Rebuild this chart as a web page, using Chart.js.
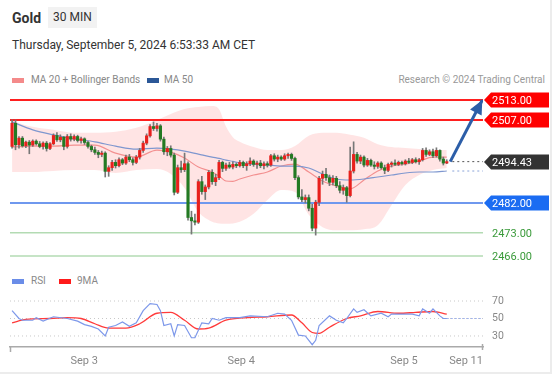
<!DOCTYPE html>
<html>
<head>
<meta charset="utf-8">
<script src="https://cdn.jsdelivr.net/npm/chart.js@4.4.1/dist/chart.umd.min.js"></script>
<style>
  html, body { margin: 0; padding: 0; background: #fff; }
  body { width: 553px; height: 375px; position: relative; overflow: hidden;
         font-family: Roboto, "Liberation Sans", Arial, sans-serif; }
  .frame { position: absolute; left: 0; top: 0; width: 550px; height: 372px;
           border-right: 2px solid #ececec; border-bottom: 2px solid #ececec; }
  canvas { position: absolute; left: 0; top: 0; }
  .txt { position: absolute; white-space: nowrap; }
  #title { left: 12px; top: 10px; font-size: 14px; font-weight: bold; color: #333; }
  #tf { left: 48px; top: 7px; width: 49px; height: 21px; line-height: 21px; text-align: center;
        background: #f2f2f2; font-size: 12px; color: #333; }
  #date { left: 12px; top: 38px; font-size: 12px; color: #333; }
  .leg { font-size: 10px; color: #888; }
  .sw { position: absolute; width: 12px; height: 5px; }
</style>
</head>
<body>
<div class="frame"></div>
<div class="txt" id="title">Gold</div>
<div class="txt" id="tf">30 MIN</div>
<div class="txt" id="date">Thursday, September 5, 2024 6:53:33 AM CET</div>

<div class="sw" style="left:12px; top:78px; background:#f48a8a;"></div>
<div class="txt leg" style="left:31px; top:74px;">MA 20 + Bollinger Bands</div>
<div class="sw" style="left:147px; top:78px; background:#2b5797;"></div>
<div class="txt leg" style="left:164px; top:74px;">MA 50</div>
<div class="txt leg" style="right:8px; top:74px; color:#999;">Research © 2024 Trading Central</div>

<div class="sw" style="left:12px; top:279px; background:#6a8de8;"></div>
<div class="txt leg" style="left:31px; top:275px;">RSI</div>
<div class="sw" style="left:59px; top:279px; background:#ff1a1a;"></div>
<div class="txt leg" style="left:77px; top:275px;">9MA</div>

<canvas id="main" width="553" height="375"></canvas>
<canvas id="rsi" width="553" height="375"></canvas>

<script>
// x axis runs in candle index (30 min candles), plus some empty room on the right
const xMin = -0.6, xMax = 136.5;

// OHLC, one entry per candle
const opens = [
  2499, 2506, 2499.5, 2501.5, 2499.2, 2500.3, 2499.4, 2500.6, 2499.8, 2499,
  2500, 2498.4, 2499.8, 2502.3, 2501, 2501.8, 2499, 2502, 2501.2, 2502,
  2500.8, 2501.3, 2500.2, 2499, 2498, 2497.2, 2496.6, 2497, 2491.5, 2492.6,
  2494.2, 2493.2, 2495, 2494, 2495.8, 2495, 2494.2, 2495.8, 2497.8, 2500,
  2502.2, 2505, 2504.4, 2505.2, 2501.2, 2497.4, 2498.4, 2496.4, 2485.2, 2492.6,
  2492, 2493.8, 2477.6, 2476.6, 2476.2, 2488.4, 2485.4, 2486.8, 2491.2, 2488.4,
  2489.6, 2494.2, 2492.4, 2493.4, 2492.8, 2493.6, 2493.2, 2494.2, 2493.2, 2493.8,
  2494.6, 2493.6, 2494, 2493.2, 2493.8, 2493.4, 2496.2, 2495.2, 2495.8, 2495.2,
  2496.2, 2496.6, 2495.4, 2489.6, 2483.8, 2483, 2483.6, 2480.4, 2474.4, 2482.2,
  2489.4, 2490.6, 2489.6, 2488.2, 2489.4, 2487.2, 2485.8, 2486.6, 2484.2, 2491.6,
  2496.6, 2494.6, 2495.8, 2493.4, 2494.8, 2493.4, 2493, 2494, 2492.6, 2491.8,
  2493.6, 2494, 2493.6, 2494.2, 2493.8, 2494.6, 2494.2, 2495, 2494.4, 2495,
  2497.8, 2496.6, 2497.4, 2496.2, 2497.8, 2495.2, 2494
];
const highs = [
  2507, 2507, 2502, 2502, 2500.6, 2500.8, 2501, 2501, 2500.5, 2500.4,
  2500.5, 2500.2, 2502.8, 2503.2, 2502.5, 2502, 2502.6, 2502.8, 2502.5, 2502.4,
  2501.8, 2501.6, 2500.6, 2499.4, 2498.8, 2497.8, 2497.6, 2497.4, 2493.2, 2494.8,
  2495, 2495.6, 2495.4, 2496.4, 2496.6, 2495.6, 2496.3, 2498.4, 2500.6, 2502.8,
  2505.6, 2506.4, 2506, 2505.6, 2501.8, 2499, 2499.2, 2497, 2493.4, 2494.6,
  2497, 2494.4, 2479.5, 2478.6, 2489, 2490, 2487.4, 2491.8, 2492, 2490.6,
  2494.8, 2494.6, 2494, 2494.2, 2494.4, 2494, 2494.8, 2494.6, 2494.4, 2495.6,
  2495, 2494.6, 2494.8, 2494.4, 2494.4, 2496.6, 2496.8, 2496.4, 2496.2, 2496.8,
  2497, 2497, 2495.8, 2490.2, 2486, 2484.4, 2484.4, 2481.6, 2482.8, 2490,
  2491.6, 2492.4, 2490.4, 2490.2, 2490, 2488.4, 2487.4, 2487, 2498.8, 2500.4,
  2497.2, 2496.4, 2496.2, 2495.4, 2495.2, 2494.4, 2494.4, 2494.4, 2493.4, 2494,
  2494.4, 2495, 2494.6, 2494.6, 2495, 2495.4, 2495.4, 2495.6, 2495.4, 2498.4,
  2498.6, 2498, 2498.2, 2498.6, 2498, 2495.8, 2495
];
const lows = [
  2498.5, 2498, 2498.5, 2498.8, 2498.6, 2496.8, 2499, 2499.4, 2498.6, 2498.2,
  2497.6, 2498, 2499.5, 2500.5, 2500.4, 2498, 2498.5, 2500.6, 2500.7, 2500.3,
  2500, 2499.6, 2498.5, 2497.4, 2496.6, 2495.6, 2495.9, 2489.8, 2490, 2491.8,
  2492.5, 2492.8, 2493.5, 2493.6, 2494.4, 2493.4, 2493.8, 2495.2, 2497.2, 2499.5,
  2501.8, 2503.8, 2503.6, 2500.6, 2496.6, 2496.2, 2495.8, 2484.4, 2484.8, 2491.2,
  2491.4, 2476.8, 2472.6, 2475.4, 2475.8, 2484.6, 2483, 2486.2, 2487.6, 2487.2,
  2489, 2491.4, 2491.8, 2492.4, 2492.2, 2492.6, 2492.8, 2492.6, 2491.8, 2493.2,
  2493, 2492.4, 2492.6, 2492.2, 2492.8, 2493, 2494.6, 2494.4, 2494.8, 2494.8,
  2495.4, 2494.8, 2489, 2483.2, 2482.4, 2482, 2479.6, 2473.6, 2472.3, 2481.2,
  2487.6, 2488.8, 2487.2, 2487.4, 2486.6, 2485, 2484.6, 2482.2, 2483.8, 2491,
  2494, 2493.8, 2492.8, 2493, 2493, 2492.2, 2492.4, 2492.2, 2490.8, 2491.4,
  2492.8, 2493.2, 2493.2, 2493.4, 2493.4, 2493.8, 2493.8, 2494, 2493.6, 2494.6,
  2496, 2496.2, 2495.6, 2495.8, 2494.6, 2493.4, 2493.8
];
const closes = [
  2506, 2499.5, 2501.5, 2499.2, 2500.3, 2499.4, 2500.6, 2499.8, 2499, 2500,
  2498.4, 2499.8, 2502.3, 2501, 2501.8, 2499, 2502, 2501.2, 2502, 2500.8,
  2501.3, 2500.2, 2499, 2498, 2497.2, 2496.6, 2497, 2491.5, 2492.6, 2494.2,
  2493.2, 2495, 2494, 2495.8, 2495, 2494.2, 2495.8, 2497.8, 2500, 2502.2,
  2505, 2504.4, 2505.2, 2501.2, 2497.4, 2498.4, 2496.4, 2485.2, 2492.6, 2492,
  2493.8, 2477.6, 2476.6, 2476.2, 2488.4, 2485.4, 2486.8, 2491.2, 2488.4, 2489.6,
  2494.2, 2492.4, 2493.4, 2492.8, 2493.6, 2493.2, 2494.2, 2493.2, 2493.8, 2494.6,
  2493.6, 2494, 2493.2, 2493.8, 2493.4, 2496.2, 2495.2, 2495.8, 2495.2, 2496.2,
  2496.6, 2495.4, 2489.6, 2483.8, 2483, 2483.6, 2480.4, 2474.4, 2482.2, 2489.4,
  2490.6, 2489.6, 2488.2, 2489.4, 2487.2, 2485.8, 2486.6, 2484.2, 2491.6, 2496.6,
  2494.6, 2495.8, 2493.4, 2494.8, 2493.4, 2493, 2494, 2492.6, 2491.8, 2493.6,
  2494, 2493.6, 2494.2, 2493.8, 2494.6, 2494.2, 2495, 2494.4, 2495, 2497.8,
  2496.6, 2497.4, 2496.2, 2497.8, 2495.2, 2494, 2494.43
];

// MA 20 + Bollinger Bands and MA 50, read at these candle indices
const bandIdx = [0, 6, 12, 18, 24, 30, 36, 42, 46, 50, 54, 58, 60, 62, 64, 66, 70, 74, 78, 82, 86, 90, 94, 98, 102, 106, 110, 114, 118, 122, 126];
const bbUpper = [2506.7, 2504.9, 2504.0, 2503.1, 2503.1, 2503.4, 2504.6, 2507.0, 2508.8, 2510.3, 2510.9, 2511.2, 2510.2, 2505.0, 2501.8, 2500.4,
  2498.8, 2497.9, 2497.9, 2499.1, 2502.2, 2503.1, 2503.1, 2502.5, 2501.6, 2499.7, 2498.8, 2498.5, 2498.2, 2497.9, 2497.9];
const bbLower = [2491.3, 2491.3, 2491.6, 2491.9, 2491.9, 2491.0, 2491.9, 2492.2, 2490.7, 2486.5, 2479.3, 2476.3, 2475.8, 2475.7, 2475.8, 2476.3,
  2478.7, 2482.9, 2485.9, 2485.3, 2478.4, 2474.7, 2473.8, 2473.8, 2474.1, 2475.3, 2481.4, 2487.4, 2490.4, 2491.9, 2492.5];
const ma20 = [2498.8, 2499.1, 2499.1, 2499.4, 2499.4, 2497.0, 2495.8, 2497.9, 2497.3, 2495.5, 2492.8, 2491.3, 2490.1, 2488.6, 2488.5, 2489.2,
  2490.4, 2491.3, 2493.1, 2493.7, 2491.3, 2488.6, 2487.1, 2486.2, 2488.9, 2491.6, 2493.1, 2493.7, 2494.6, 2495.8, 2495.8];
const ma50 = [2506.4, 2504.0, 2502.5, 2501.3, 2500.4, 2499.1, 2498.2, 2498.5, 2498.2, 2497.6, 2496.7, 2495.8, 2495.4, 2494.9, 2494.5, 2494.0,
  2493.7, 2493.4, 2493.1, 2493.1, 2492.5, 2490.7, 2489.2, 2488.9, 2489.2, 2489.8, 2490.4, 2491.0, 2491.3, 2491.3, 2491.6];

// key levels (resistance, last price, support)
const levels = [2513, 2507, 2494.43, 2482, 2473, 2466];
const arrowFrom = [127, 2494.43];
const arrowTo = [136.3, 2513];

// RSI panel
const rsiIdx = [0, 2, 3, 6, 7, 9, 12, 16, 19, 21, 23, 25, 27, 28, 30, 32, 34, 36, 38, 40, 42, 43, 44, 46, 47, 48, 50, 52, 53, 55,
  57, 58, 60, 62, 66, 69, 74, 77, 79, 81, 83, 85, 87, 88, 89, 92, 94, 96, 97, 99, 100, 102, 104, 107, 109, 110, 116, 118, 119, 121,
  122, 124, 125, 126];
const rsiVals = [59, 50, 48, 48, 51, 47, 52, 50, 47, 43, 41, 38, 30, 40, 42, 46, 41, 45, 59, 67, 66, 59, 42, 44, 30, 43, 42, 28, 28, 45,
  44, 50, 48, 51, 51, 53, 52, 56, 55, 48, 31, 30, 20, 25, 42, 53, 48, 45, 50, 61, 57, 60, 53, 56, 52, 55, 55, 53, 61, 56,
  61, 53, 50, 50];
const rsiMaIdx = [0, 4, 11, 16, 20, 24, 28, 33, 37, 42, 46, 50, 54, 57, 62, 68, 74, 81, 84, 87, 89, 92, 97, 101, 106, 112, 117, 122, 126];
const rsiMaVals = [45, 49, 50, 51, 50, 44, 39, 39, 44, 56, 57, 48, 38, 39, 48, 51, 52, 54, 45, 34, 33, 40, 50, 53, 58, 56, 57, 58, 55];
const rsiLevels = [30, 50, 70];

const dateTickIdx = [20.9, 66.4, 113.6, 131.6];
const dateTickLabels = ["Sep 3", "Sep 4", "Sep 5", "Sep 11"];

// ---- styles ----
const FONT = 'Roboto, "Liberation Sans", Arial, sans-serif';
Chart.defaults.font.family = FONT;
const UP = "#e8201c", DOWN = "#237a23", WICK = "#777777";
const levelLook = [
  { line: "#ff1f1f", width: 2,   tag: "#ff0000", text: "#ffffff", from: xMin },
  { line: "#ff1f1f", width: 2,   tag: "#ff0000", text: "#ffffff", from: xMin },
  { line: "#555555", width: 1,   tag: "#333333", text: "#ffffff", from: 127.6, dash: [2, 3] },
  { line: "#6f98ee", width: 2,   tag: "#1b6cf2", text: "#ffffff", from: xMin },
  { line: "#b3dbb3", width: 1.5, tag: null,      text: "#3a9a3a", from: xMin },
  { line: "#b3dbb3", width: 1.5, tag: null,      text: "#3a9a3a", from: xMin }
];

const pts = (xs, ys) => xs.map((x, i) => ({ x: x, y: ys[i] }));
const flat = (v, from, to) => [{ x: from, y: v }, { x: to, y: v }];
const idx = opens.map((_, i) => i);

const wickData = idx.map(i => ({ x: i, y: [lows[i], highs[i]] }));
const bodyData = idx.map(i => ({ x: i, y: [Math.min(opens[i], closes[i]), Math.max(opens[i], closes[i])] }));
const bodyColors = idx.map(i => closes[i] >= opens[i] ? UP : DOWN);

const lineBase = { type: "line", pointRadius: 0, fill: false };

// tags on the right + arrow head
const levelTags = {
  id: "levelTags",
  afterDatasetsDraw(chart) {
    const { ctx, chartArea: a, scales: { x, y } } = chart;
    ctx.save();
    ctx.font = "11px " + FONT;
    ctx.textBaseline = "middle";
    levels.forEach((v, k) => {
      const look = levelLook[k];
      const py = Math.round(y.getPixelForValue(v));
      const x0 = a.right + 1;
      if (look.tag) {
        ctx.fillStyle = look.tag;
        ctx.beginPath();
        ctx.moveTo(x0, py);
        ctx.lineTo(x0 + 7, py - 7.5);
        ctx.lineTo(x0 + 65, py - 7.5);
        ctx.lineTo(x0 + 65, py + 7.5);
        ctx.lineTo(x0 + 7, py + 7.5);
        ctx.closePath();
        ctx.fill();
      }
      ctx.fillStyle = look.text;
      ctx.fillText(v.toFixed(2), x0 + 8, py + 1);
    });

    // arrow head
    const x1 = x.getPixelForValue(arrowFrom[0]), y1 = y.getPixelForValue(arrowFrom[1]);
    const x2 = x.getPixelForValue(arrowTo[0]), y2 = y.getPixelForValue(arrowTo[1]);
    const len = Math.hypot(x2 - x1, y2 - y1);
    const ux = (x2 - x1) / len, uy = (y2 - y1) / len;
    const bx = x2 - ux * 14, by = y2 - uy * 14;
    ctx.fillStyle = "#2c5ea8";
    ctx.beginPath();
    ctx.moveTo(x2, y2);
    ctx.lineTo(bx - uy * 6.5, by + ux * 6.5);
    ctx.lineTo(bx + uy * 6.5, by - ux * 6.5);
    ctx.closePath();
    ctx.fill();
    ctx.restore();
  }
};

new Chart(document.getElementById("main"), {
  type: "bar",
  data: {
    datasets: [
      { ...lineBase, data: pts(bandIdx, bbUpper), borderWidth: 0, fill: "+1",
        backgroundColor: "rgba(255,190,190,0.42)", cubicInterpolationMode: "monotone", order: 20 },
      { ...lineBase, data: pts(bandIdx, bbLower), borderWidth: 0, cubicInterpolationMode: "monotone", order: 19 },
      { ...lineBase, data: pts(bandIdx, ma20), borderColor: "#f39090", borderWidth: 1.2, cubicInterpolationMode: "monotone", order: 18 },
      { ...lineBase, data: pts(bandIdx, ma50), borderColor: "#7f97cf", borderWidth: 1.2, cubicInterpolationMode: "monotone", order: 17 },
      { ...lineBase, data: flat(ma50[ma50.length - 1], 127.6, xMax), borderColor: "#8aa2d8", borderWidth: 1,
        borderDash: [2, 3], order: 16 },
      ...levels.map((v, k) => ({ ...lineBase, data: flat(v, levelLook[k].from, xMax), borderColor: levelLook[k].line,
        borderWidth: levelLook[k].width, borderDash: levelLook[k].dash || [], order: 15 })),
      { type: "bar", data: wickData, backgroundColor: WICK, barThickness: 1, grouped: false, order: 6 },
      { type: "bar", data: bodyData, backgroundColor: bodyColors, barThickness: 2.5, minBarLength: 1, grouped: false, order: 5 },
      { ...lineBase, data: [{ x: arrowFrom[0], y: arrowFrom[1] }, { x: arrowTo[0], y: arrowTo[1] }],
        borderColor: "#2c5ea8", borderWidth: 3, order: 1 }
    ]
  },
  options: {
    responsive: false, animation: false, events: [],
    layout: { padding: { left: 10, right: 70, top: 90, bottom: 109 } },
    plugins: { legend: { display: false }, tooltip: { enabled: false } },
    scales: {
      x: { type: "linear", display: false, min: xMin, max: xMax, offset: false },
      y: { display: false, min: 2463, max: 2516, beginAtZero: false }
    }
  },
  plugins: [levelTags]
});

// small end marks on the time axis
const axisEnds = {
  id: "axisEnds",
  afterDraw(chart) {
    const { ctx, chartArea: a } = chart;
    ctx.save();
    ctx.strokeStyle = "#aaaaaa";
    ctx.lineWidth = 1.5;
    ctx.beginPath();
    ctx.moveTo(a.left + 0.5, a.bottom); ctx.lineTo(a.left + 0.5, a.bottom + 5);
    ctx.moveTo(a.right - 0.5, a.bottom - 3); ctx.lineTo(a.right - 0.5, a.bottom + 3);
    ctx.stroke();
    ctx.restore();
  }
};

new Chart(document.getElementById("rsi"), {
  type: "line",
  data: {
    datasets: [
      { ...lineBase, data: pts(rsiIdx, rsiVals), borderColor: "#7d98ea", borderWidth: 1.2, tension: 0 },
      { ...lineBase, data: flat(50, 126, xMax), borderColor: "#9fb3ee", borderWidth: 1, borderDash: [2, 2] },
      { ...lineBase, data: pts(rsiMaIdx, rsiMaVals), borderColor: "#ff3b3b", borderWidth: 1.3, cubicInterpolationMode: "monotone" },
      ...rsiLevels.map(v => ({ ...lineBase, data: flat(v, xMin, xMax), borderColor: "#c8c8c8", borderWidth: 1, borderDash: [1, 3] }))
    ]
  },
  options: {
    responsive: false, animation: false, events: [],
    layout: { padding: { left: 10, right: 0, top: 285, bottom: 0 } },
    plugins: { legend: { display: false }, tooltip: { enabled: false } },
    scales: {
      x: {
        type: "linear", min: xMin, max: xMax,
        grid: { display: false, drawTicks: false },
        border: { display: true, color: "#aaaaaa", width: 1.5 },
        afterBuildTicks: s => { s.ticks = dateTickIdx.map(v => ({ value: v })); },
        afterFit: s => { s.height = 28; },
        ticks: { autoSkip: false, maxRotation: 0, padding: 8, color: "#888", font: { size: 11 },
                 callback: (v, k) => dateTickLabels[k] }
      },
      y: {
        position: "right", min: 17.4, max: 88.3,
        grid: { display: false, drawTicks: false },
        border: { display: false },
        afterBuildTicks: s => { s.ticks = rsiLevels.map(v => ({ value: v })); },
        afterFit: s => { s.width = 70; },
        ticks: { padding: 9, color: "#888", font: { size: 10.5 } }
      }
    }
  },
  plugins: [axisEnds]
});
</script>
</body>
</html>
